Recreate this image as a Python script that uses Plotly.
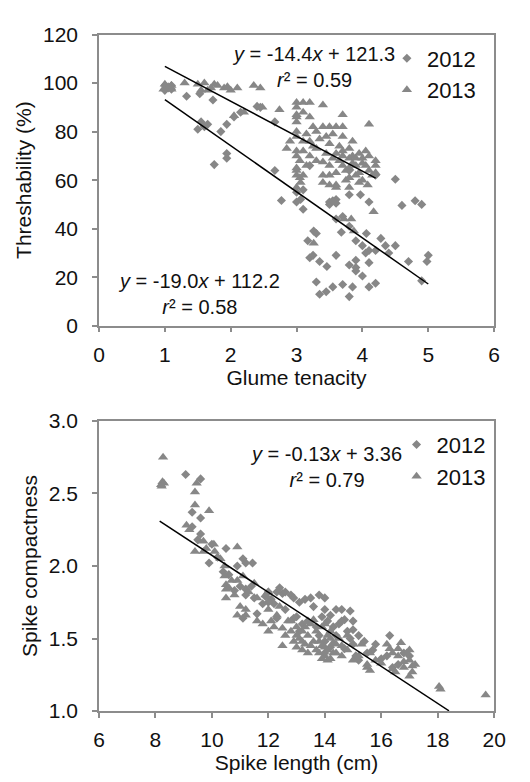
import plotly.graph_objects as go

# ---------------- Top panel: Glume tenacity vs Threshability ----------------
gt_2012 = [1.0, 1.0, 1.05, 1.1, 1.1, 1.33, 1.53, 1.5, 1.73, 1.55, 1.6, 1.65, 1.85, 1.75, 1.94, 1.94,
           1.94, 2.05, 2.15, 2.4, 2.45, 2.67, 2.67, 2.77, 3.06, 3.0, 3.1, 3.2, 3.5, 3.6, 3.6, 3.8,
           3.97, 4.5, 4.1, 4.6, 4.8, 4.9, 3.8, 3.68, 3.26, 3.17, 3.2, 3.25, 3.35, 3.46, 3.3, 3.35,
           3.45, 3.55, 3.7, 3.8, 3.85, 3.8, 3.9, 3.9, 4.0, 4.0, 4.06, 4.1, 4.1, 4.1, 4.28, 4.2,
           4.35, 4.4, 4.7, 4.98, 4.9, 5.0, 3.6, 3.7, 3.8, 3.5, 3.55, 3.0, 4.2, 4.05, 3.9,
           3.3, 3.9, 4.2, 3.6, 4.5, 3.1]
th_2012 = [97, 99, 98, 97.5, 99, 94.6, 95.6, 81, 93, 84, 82, 83, 80, 66.4, 69, 71,
           83, 86, 88, 90.4, 90, 84, 64, 51.6, 52, 55, 56, 66, 51, 52, 50.5, 54,
           54, 60.4, 51, 49.6, 51.5, 50, 64, 38.5, 39, 35, 28, 29, 26.5, 24.4, 18, 13,
           14, 16, 17, 25, 16, 12, 27, 22.6, 20.5, 33, 38, 31, 26, 16, 36, 17.5,
           33, 30, 26.5, 26.5, 18.5, 29, 44, 45, 41, 50, 51.5, 51, 62, 30, 24,
           38, 35, 31, 29, 33, 48]

gt_2013 = [1.0, 1.0, 0.98, 1.05, 1.1, 1.1, 1.3, 1.5, 1.6, 1.7, 1.8, 1.9, 2.0, 1.95, 2.1, 2.35,
           2.45, 1.55, 1.75, 1.65, 2.05, 2.2, 2.48, 2.74, 2.9, 3.0, 3.1, 3.2, 3.4, 3.0, 3.0, 3.0,
           3.2, 3.1, 3.2, 3.3, 3.5, 3.6, 3.7, 3.7, 3.7, 4.1, 3.5, 3.3, 3.6, 3.7, 3.8, 3.8,
           3.9, 4.0, 4.2, 3.4, 3.0, 3.0, 3.0, 3.4, 3.5, 3.7, 3.8, 4.2, 3.06, 4.08, 4.0, 4.17,
           3.72, 3.83, 3.87, 3.26, 3.05, 3.1, 3.15, 3.25, 3.45, 3.55, 3.65, 3.75, 3.85, 3.95, 4.05, 3.9,
           3.5, 3.6, 3.95, 3.85, 4.1,
           3.0, 3.0, 3.0, 3.0, 3.0, 3.0, 3.05, 3.1, 3.15, 3.2, 3.25, 3.3, 3.35, 3.4, 3.45, 3.5,
           3.55, 3.6, 3.65, 3.7, 3.75, 3.8, 3.85, 3.9, 3.95, 4.0, 4.05, 4.1, 4.15, 4.2, 3.6, 3.8,
           3.4, 2.85, 3.1]
th_2013 = [98, 99.5, 97.5, 98.5, 99, 97.5, 100, 99.5, 100, 98, 99, 98, 97, 98.5, 98, 99,
           98, 97, 99.5, 97, 86.5, 88, 90, 89, 76, 92, 92, 92, 91, 84, 86, 87,
           86, 76, 76, 80, 82, 82, 82, 87, 78, 83, 75, 73, 71, 70, 73, 69,
           69, 69, 68, 67.5, 62, 64, 65, 62, 62, 66, 65, 63, 59, 58, 60, 47,
           44, 44, 39, 34, 68, 72, 79, 82, 78, 69, 74, 60, 67, 71, 66, 62,
           58, 58, 63, 70, 70,
           90, 80, 78, 72, 70, 57, 61, 88, 66, 70, 74, 68, 77, 82, 71, 66,
           79, 63, 68, 72, 64, 61, 76, 66, 59, 67, 72, 64, 62, 66, 57, 57,
           59, 73, 62]

# regression lines (coefficients estimated from the drawn lines)
top_fit_2013 = dict(slope=-14.4, intercept=121.3, x_range=[1.0, 4.2])
top_fit_2012 = dict(slope=-19.0, intercept=112.2, x_range=[1.0, 5.0])

# ---------------- Bottom panel: Spike length vs Spike compactness ----------------
sl_2012 = [9.07, 9.6, 9.3, 9.6, 9.6, 9.3, 10.0, 10.5, 10.9, 11.1, 11.2, 11.2, 12.0, 12.3, 12.5, 12.8,
           11.1, 11.2, 10.8, 11.4, 11.6, 12.2, 11.9, 12.4, 12.9, 13.3, 13.5, 13.8, 13.6, 14.0, 14.4, 14.6,
           14.7, 15.0, 15.0, 15.1, 15.2, 16.0, 16.3, 16.2, 16.4, 17.0, 13.0, 13.2, 13.4, 14.1, 14.3, 14.8,
           14.9, 15.4, 15.7, 13.8, 14.0, 14.2, 14.5, 12.6, 12.9, 13.1, 10.4, 10.6, 9.9, 9.5, 11.8, 11.5,
           16.6, 16.8, 14.4, 14.7, 15.5, 14.0, 13.7, 12.3, 12.1, 11.44, 14.0, 14.9, 15.0,
           12.6, 13.1, 13.9, 14.2, 14.6, 15.2, 15.8, 12.0, 11.0, 10.2]
sc_2012 = [2.63, 2.60, 2.37, 2.33, 2.22, 2.27, 2.15, 2.12, 2.00, 2.05, 2.02, 1.84, 1.82, 1.82, 1.81, 1.80,
           1.64, 1.80, 1.83, 1.86, 1.67, 1.74, 1.79, 1.85, 1.78, 1.77, 1.78, 1.80, 1.72, 1.70, 1.70, 1.70,
           1.63, 1.56, 1.46, 1.38, 1.35, 1.36, 1.52, 1.38, 1.30, 1.38, 1.65, 1.60, 1.62, 1.62, 1.58, 1.55,
           1.50, 1.48, 1.42, 1.52, 1.48, 1.44, 1.60, 1.70, 1.64, 1.55, 1.96, 1.94, 2.02, 2.18, 1.74, 1.78,
           1.32, 1.40, 1.52, 1.43, 1.40, 1.40, 1.58, 1.64, 1.77, 2.02, 1.78, 1.69, 1.62,
           1.82, 1.75, 1.65, 1.66, 1.62, 1.52, 1.46, 1.75, 1.86, 2.06]

sl_2013 = [8.27, 8.2, 8.25, 8.22, 8.3, 9.46, 9.4, 9.4, 9.9, 9.1, 9.4, 9.7, 9.7, 10.07, 10.1, 10.45,
           10.45, 10.9, 10.7, 10.9, 11.1, 10.5, 10.5, 10.5, 10.9, 11.2, 11.8, 12.1, 12.5, 13.2, 15.0, 15.3,
           15.5, 15.5, 16.2, 16.3, 16.4, 16.5, 16.6, 16.7, 16.8, 16.9, 17.0, 17.0, 17.1, 17.1, 17.2, 18.05,
           18.1, 19.7, 12.6, 12.8, 12.9, 13.0, 13.1, 13.2, 13.3, 13.4, 13.5, 13.6, 13.7, 13.8, 13.9, 14.0,
           14.1, 14.2, 14.3, 14.4, 14.5, 14.1, 13.9, 12.7, 12.3, 12.0, 11.6, 11.9, 12.4, 14.6, 14.8, 15.2,
           15.8, 16.0, 15.6, 13.0, 13.4, 14.2, 13.6, 14.0, 11.3, 11.0, 12.2, 9.8, 10.3, 9.2, 11.5, 12.0,
           12.5, 12.8, 13.0, 13.2, 13.3, 13.5, 13.7, 13.8, 14.0, 14.1, 14.3, 14.4, 14.6, 14.8, 15.0, 15.6,
           16.6, 16.8, 17.0, 16.4, 11.2, 11.6, 12.0, 13.9, 14.2, 10.8, 10.6]
sc_2013 = [2.75, 2.56, 2.58, 2.55, 2.57, 2.57, 2.51, 2.42, 2.38, 2.28, 2.10, 2.10, 2.17, 2.15, 2.10, 1.93,
           2.00, 2.13, 1.90, 1.90, 1.93, 1.87, 1.78, 1.84, 1.66, 1.66, 1.60, 1.62, 1.57, 1.42, 1.46, 1.46,
           1.30, 1.32, 1.46, 1.43, 1.29, 1.27, 1.43, 1.47, 1.30, 1.40, 1.35, 1.24, 1.27, 1.31, 1.32, 1.17,
           1.15, 1.11, 1.52, 1.55, 1.48, 1.58, 1.50, 1.55, 1.46, 1.52, 1.60, 1.48, 1.55, 1.40, 1.45, 1.38,
           1.42, 1.36, 1.47, 1.40, 1.50, 1.52, 1.58, 1.62, 1.66, 1.70, 1.78, 1.80, 1.72, 1.45, 1.52, 1.38,
           1.35, 1.33, 1.40, 1.44, 1.40, 1.55, 1.63, 1.60, 1.82, 1.72, 1.58, 2.12, 2.05, 2.25, 1.88, 1.82,
           1.45, 1.62, 1.52, 1.48, 1.58, 1.45, 1.42, 1.48, 1.44, 1.35, 1.40, 1.46, 1.38, 1.42, 1.35, 1.28,
           1.38, 1.34, 1.42, 1.40, 1.70, 1.62, 1.55, 1.36, 1.50, 1.80, 1.85]

bottom_fit = dict(slope=-0.1275, intercept=3.348, x_range=[8.15, 18.4])

equation_labels = [
    "<i>y</i> = -14.4<i>x</i> + 121.3<br><i>r</i>² = 0.59",
    "<i>y</i> = -19.0<i>x</i> + 112.2<br><i>r</i>² = 0.58",
    "<i>y</i> = -0.13<i>x</i> + 3.36<br><i>r</i>² = 0.79",
]

x_ticks_top = [0, 1, 2, 3, 4, 5, 6]
y_ticks_top = [0, 20, 40, 60, 80, 100, 120]
x_ticks_bot = [6, 8, 10, 12, 14, 16, 18, 20]
y_ticks_bot = [1.0, 1.5, 2.0, 2.5, 3.0]

MARK = "#878787"
AX = "#8c8c8c"
TXT = "#111111"
FONT = "Arial, Liberation Sans, sans-serif"
FS = 21

fig = go.Figure()

def fit_line(f):
    xs = f["x_range"]
    return xs, [f["slope"] * v + f["intercept"] for v in xs]

fig.add_trace(go.Scatter(x=gt_2012, y=th_2012, mode="markers", name="2012",
                         marker=dict(symbol="diamond", size=7, color=MARK),
                         xaxis="x", yaxis="y", legend="legend"))
fig.add_trace(go.Scatter(x=gt_2013, y=th_2013, mode="markers", name="2013",
                         marker=dict(symbol="triangle-up", size=9, color=MARK),
                         xaxis="x", yaxis="y", legend="legend"))
for f in (top_fit_2013, top_fit_2012):
    lx, ly = fit_line(f)
    fig.add_trace(go.Scatter(x=lx, y=ly, mode="lines", line=dict(color="black", width=1.5),
                             showlegend=False, xaxis="x", yaxis="y"))

fig.add_trace(go.Scatter(x=sl_2012, y=sc_2012, mode="markers", name="2012",
                         marker=dict(symbol="diamond", size=7, color=MARK),
                         xaxis="x2", yaxis="y2", legend="legend2"))
fig.add_trace(go.Scatter(x=sl_2013, y=sc_2013, mode="markers", name="2013",
                         marker=dict(symbol="triangle-up", size=9, color=MARK),
                         xaxis="x2", yaxis="y2", legend="legend2"))
lx, ly = fit_line(bottom_fit)
fig.add_trace(go.Scatter(x=lx, y=ly, mode="lines", line=dict(color="black", width=1.5),
                         showlegend=False, xaxis="x2", yaxis="y2"))

W, H = 530, 782
OFF = 8  # page body margin offset
def px_x(p):
    return (p - OFF) / W
def px_y(p):
    return 1 - (p - OFF) / H

axis_common = dict(showgrid=False, zeroline=False, showline=True, linecolor=AX, linewidth=1.5,
                   mirror=True, ticks="outside", ticklen=5, tickwidth=1.5, tickcolor=AX,
                   tickfont=dict(family=FONT, size=FS, color=TXT))
title_font = dict(family=FONT, size=FS, color=TXT)

fig.update_layout(
    width=W, height=H, margin=dict(l=0, r=0, t=0, b=0),
    paper_bgcolor="white", plot_bgcolor="white",
    font=dict(family=FONT, size=FS, color=TXT),
    xaxis=dict(axis_common, domain=[px_x(96), px_x(505)], anchor="y", range=[0, 6],
               tickvals=x_ticks_top, ticklabelstandoff=4,
               title=dict(text="Glume tenacity", standoff=2, font=title_font)),
    yaxis=dict(axis_common, domain=[px_y(323), px_y(23)], anchor="x", range=[0, 120],
               tickvals=y_ticks_top, ticklabelstandoff=10,
               title=dict(text="Threshability (%)", standoff=6, font=title_font)),
    xaxis2=dict(axis_common, domain=[px_x(96), px_x(505)], anchor="y2", range=[6, 20],
                tickvals=x_ticks_bot, ticklabelstandoff=4,
                title=dict(text="Spike length (cm)", standoff=2, font=title_font)),
    yaxis2=dict(axis_common, domain=[px_y(720), px_y(421)], anchor="x2", range=[1.0, 3.0],
                tickvals=y_ticks_bot, tickformat=".1f", ticklabelstandoff=10,
                title=dict(text="Spike compactness", standoff=6, font=title_font)),
    legend=dict(x=px_x(394), y=px_y(26), xanchor="left", yanchor="top", bgcolor="rgba(0,0,0,0)",
                font=dict(family=FONT, size=22, color=TXT), itemwidth=30, tracegroupgap=0),
    legend2=dict(x=px_x(404), y=px_y(424), xanchor="left", yanchor="top", bgcolor="rgba(0,0,0,0)",
                 font=dict(family=FONT, size=22, color=TXT), itemwidth=30, tracegroupgap=0),
    showlegend=True,
)

centers = [(318, 56), (200, 290), (331, 469)]
for text, (cx, cy) in zip(equation_labels, centers):
    fig.add_annotation(text=text, x=px_x(cx), y=px_y(cy), xref="paper", yref="paper",
                       xanchor="center", yanchor="middle", align="center", showarrow=False,
                       font=dict(family=FONT, size=20, color=TXT))

fig.write_html("out.html")
